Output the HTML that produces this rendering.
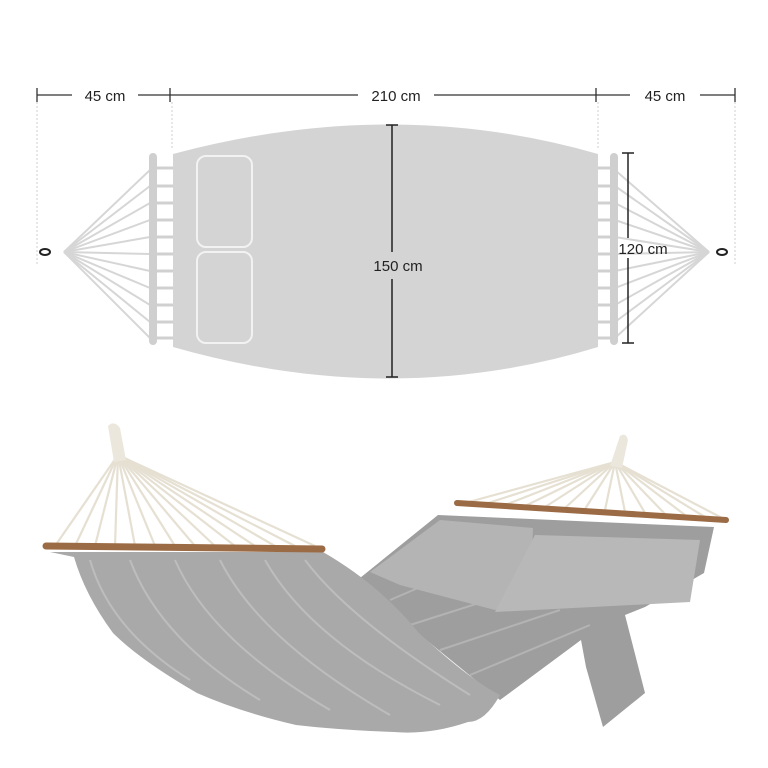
<!DOCTYPE html>
<html><head><style>
html,body{margin:0;padding:0;background:#fff;}
svg{display:block;}
text{font-family:"Liberation Sans",sans-serif;fill:#222;}
</style></head><body>
<svg width="768" height="768" viewBox="0 0 768 768" xmlns="http://www.w3.org/2000/svg">
<g stroke="#333" stroke-width="1.3">
<line x1="37" y1="95" x2="72" y2="95"/><line x1="138" y1="95" x2="170" y2="95"/>
<line x1="170" y1="95" x2="358" y2="95"/><line x1="434" y1="95" x2="596" y2="95"/>
<line x1="596" y1="95" x2="630" y2="95"/><line x1="700" y1="95" x2="735" y2="95"/>
<line x1="37" y1="88" x2="37" y2="102"/><line x1="170" y1="88" x2="170" y2="102"/>
<line x1="596" y1="88" x2="596" y2="102"/><line x1="735" y1="88" x2="735" y2="102"/>
</g>
<g stroke="#bbb" stroke-width="0.7" stroke-dasharray="2,2">
<line x1="37" y1="102" x2="37" y2="265"/><line x1="172" y1="102" x2="172" y2="150"/>
<line x1="598" y1="102" x2="598" y2="150"/><line x1="735" y1="102" x2="735" y2="265"/>
</g>
<text x="105" y="101" font-size="15" text-anchor="middle">45 cm</text>
<text x="396" y="101" font-size="15" text-anchor="middle">210 cm</text>
<text x="665" y="101" font-size="15" text-anchor="middle">45 cm</text>
<g stroke="#d6d6d6" stroke-width="2">
<line x1="64" y1="252" x2="150" y2="170"/><line x1="64" y1="252" x2="150" y2="186"/>
<line x1="64" y1="252" x2="150" y2="203"/><line x1="64" y1="252" x2="150" y2="220"/>
<line x1="64" y1="252" x2="150" y2="237"/><line x1="64" y1="252" x2="150" y2="254"/>
<line x1="64" y1="252" x2="150" y2="271"/><line x1="64" y1="252" x2="150" y2="288"/>
<line x1="64" y1="252" x2="150" y2="305"/><line x1="64" y1="252" x2="150" y2="322"/>
<line x1="64" y1="252" x2="150" y2="338"/>
<line x1="709" y1="252" x2="615" y2="170"/><line x1="709" y1="252" x2="615" y2="186"/>
<line x1="709" y1="252" x2="615" y2="203"/><line x1="709" y1="252" x2="615" y2="220"/>
<line x1="709" y1="252" x2="615" y2="237"/><line x1="709" y1="252" x2="615" y2="254"/>
<line x1="709" y1="252" x2="615" y2="271"/><line x1="709" y1="252" x2="615" y2="288"/>
<line x1="709" y1="252" x2="615" y2="305"/><line x1="709" y1="252" x2="615" y2="322"/>
<line x1="709" y1="252" x2="615" y2="338"/>
</g>
<g stroke="#d0d0d0" stroke-width="3">
<line x1="155" y1="168" x2="173" y2="168"/><line x1="155" y1="186" x2="173" y2="186"/><line x1="155" y1="203" x2="173" y2="203"/><line x1="155" y1="220" x2="173" y2="220"/><line x1="155" y1="237" x2="173" y2="237"/><line x1="155" y1="254" x2="173" y2="254"/><line x1="155" y1="271" x2="173" y2="271"/><line x1="155" y1="288" x2="173" y2="288"/><line x1="155" y1="305" x2="173" y2="305"/><line x1="155" y1="322" x2="173" y2="322"/><line x1="155" y1="338" x2="173" y2="338"/>
<line x1="598" y1="168" x2="613" y2="168"/><line x1="598" y1="186" x2="613" y2="186"/><line x1="598" y1="203" x2="613" y2="203"/><line x1="598" y1="220" x2="613" y2="220"/><line x1="598" y1="237" x2="613" y2="237"/><line x1="598" y1="254" x2="613" y2="254"/><line x1="598" y1="271" x2="613" y2="271"/><line x1="598" y1="288" x2="613" y2="288"/><line x1="598" y1="305" x2="613" y2="305"/><line x1="598" y1="322" x2="613" y2="322"/><line x1="598" y1="338" x2="613" y2="338"/>
</g>
<rect x="149" y="153" width="8" height="192" rx="4" fill="#cfcfcf"/>
<rect x="610" y="153" width="8" height="192" rx="4" fill="#cfcfcf"/>
<ellipse cx="45" cy="252" rx="5" ry="3" fill="none" stroke="#222" stroke-width="2"/>
<ellipse cx="722" cy="252" rx="5" ry="3" fill="none" stroke="#222" stroke-width="2"/>
<path d="M173,154 Q393,95 598,154 L598,347 Q393,410 173,347 Z" fill="#d4d4d4"/>
<rect x="197" y="156" width="55" height="91" rx="9" fill="none" stroke="#f2f2f2" stroke-width="2"/>
<rect x="197" y="252" width="55" height="91" rx="9" fill="none" stroke="#f2f2f2" stroke-width="2"/>
<g stroke="#222" stroke-width="1.5">
<line x1="392" y1="125" x2="392" y2="252"/><line x1="392" y1="279" x2="392" y2="377"/>
<line x1="386" y1="125" x2="398" y2="125"/><line x1="386" y1="377" x2="398" y2="377"/>
<line x1="628" y1="153" x2="628" y2="238"/><line x1="628" y1="258" x2="628" y2="343"/>
<line x1="622" y1="153" x2="634" y2="153"/><line x1="622" y1="343" x2="634" y2="343"/>
</g>
<text x="398" y="271" font-size="15" text-anchor="middle">150 cm</text>
<text x="643" y="254" font-size="15" text-anchor="middle">120 cm</text>

<g stroke="#e6e0d3" stroke-width="2.2">
<line x1="118" y1="455" x2="55" y2="546"/><line x1="118" y1="455" x2="75" y2="546"/><line x1="118" y1="455" x2="95" y2="546"/><line x1="118" y1="455" x2="115" y2="546"/><line x1="118" y1="455" x2="135" y2="546"/><line x1="118" y1="455" x2="155" y2="546"/><line x1="118" y1="455" x2="175" y2="546"/><line x1="118" y1="455" x2="195" y2="546"/><line x1="118" y1="455" x2="215" y2="546"/><line x1="118" y1="455" x2="235" y2="546"/><line x1="118" y1="455" x2="255" y2="546"/><line x1="118" y1="455" x2="275" y2="546"/><line x1="118" y1="455" x2="295" y2="546"/><line x1="118" y1="455" x2="315" y2="546"/>
<line x1="615" y1="462" x2="465" y2="503"/><line x1="615" y1="462" x2="485" y2="504"/><line x1="615" y1="462" x2="505" y2="505"/><line x1="615" y1="462" x2="525" y2="506"/><line x1="615" y1="462" x2="545" y2="507"/><line x1="615" y1="462" x2="565" y2="508"/><line x1="615" y1="462" x2="585" y2="509"/><line x1="615" y1="462" x2="605" y2="510"/><line x1="615" y1="462" x2="625" y2="512"/><line x1="615" y1="462" x2="645" y2="513"/><line x1="615" y1="462" x2="665" y2="514"/><line x1="615" y1="462" x2="685" y2="515"/><line x1="615" y1="462" x2="705" y2="517"/><line x1="615" y1="462" x2="722" y2="518"/>
</g>
<path d="M108,426 Q114,420 120,428 L126,460 L114,462 Z" fill="#ece7dc"/>
<path d="M620,436 Q626,432 628,440 L622,468 L610,466 Z" fill="#ece7dc"/>
<path d="M355,582 L438,515 L714,527 L704,573 L645,607 L625,615 L645,693 L603,727 L586,667 L581,640 L500,700 Z" fill="#9e9e9e"/>
<g stroke="#bdbdbd" stroke-width="2" opacity="0.7">
<line x1="390" y1="600" x2="460" y2="570"/><line x1="410" y1="625" x2="520" y2="590"/><line x1="440" y1="650" x2="560" y2="610"/><line x1="470" y1="675" x2="590" y2="625"/>
</g>
<path d="M370,572 L440,520 L533,528 L530,598 L495,610 L400,585 Z" fill="#b4b4b4"/>
<path d="M535,535 L700,540 L690,602 L495,612 Z" fill="#b8b8b8"/>
<path d="M50,552 L323,552 Q380,585 419,633 Q470,680 500,695 Q485,722 468,722 Q430,735 394,732 Q340,730 296,725 Q240,712 197,693 Q140,660 113,633 Q85,595 74,557 Z" fill="#a9a9a9"/>
<g stroke="#c2c2c2" stroke-width="2" opacity="0.8" fill="none">
<path d="M90,560 Q110,630 190,680"/><path d="M130,560 Q160,640 260,700"/><path d="M175,560 Q210,640 330,710"/><path d="M220,560 Q260,640 390,715"/><path d="M265,560 Q310,640 440,705"/><path d="M305,560 Q350,620 470,695"/>
</g>
<line x1="46" y1="546" x2="322" y2="549" stroke="#9b6b45" stroke-width="7" stroke-linecap="round"/>
<line x1="457" y1="503" x2="726" y2="520" stroke="#9b6b45" stroke-width="6" stroke-linecap="round"/>
</svg>
</body></html>
